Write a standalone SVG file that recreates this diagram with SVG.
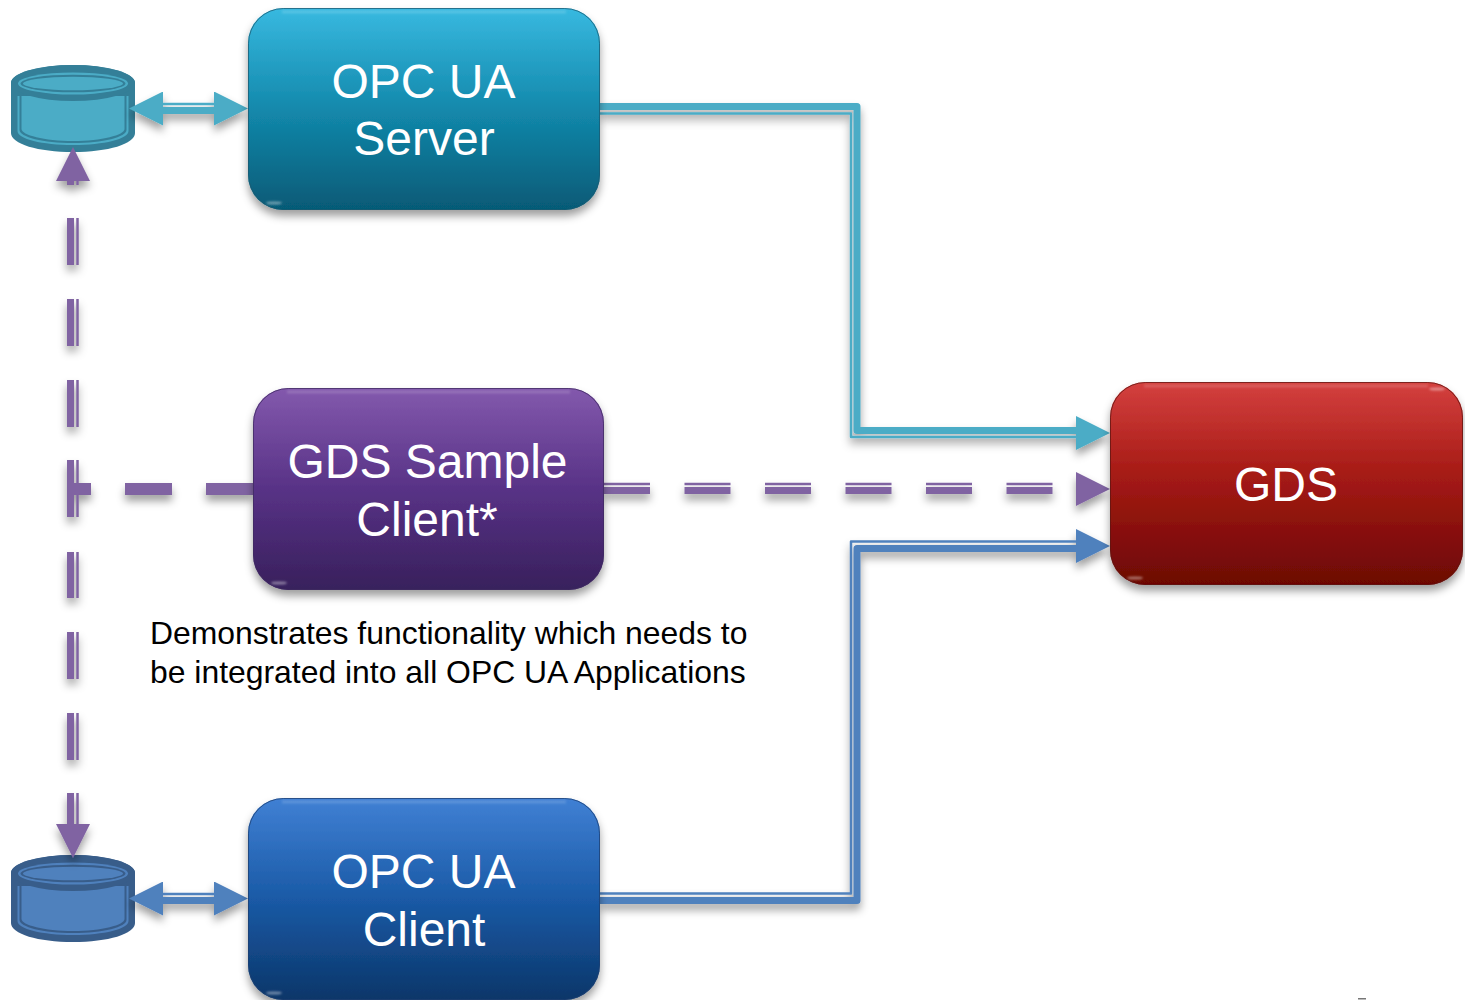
<svg xmlns="http://www.w3.org/2000/svg" width="1465" height="1000" viewBox="0 0 1465 1000">
<style>
text{font-family:"Liberation Sans",Arial,sans-serif}
.lbl{font-size:48px;fill:#fff;text-anchor:middle}
.note{font-size:31.9px;fill:#000}
.line{fill:none;stroke-linejoin:round}
.teal{stroke:#4bacc6}.blue{stroke:#4f81bd}.purple{stroke:#8064a2}
.t7{stroke-width:7}.t3{stroke-width:2.5}.center{fill:none;stroke:none}
.sheen{fill:none;stroke:#fff;stroke-opacity:.16;stroke-width:3}
.edge{fill:none;stroke-width:1;stroke-opacity:.75}
.hl{fill:#fff;fill-opacity:.4}
</style>
<defs>
<filter id="sh" filterUnits="userSpaceOnUse" x="0" y="0" width="1465" height="1000"><feDropShadow dx="0" dy="6" stdDeviation="4" flood-color="#000" flood-opacity=".38"/></filter>
<filter id="blur1" filterUnits="userSpaceOnUse" x="0" y="0" width="1465" height="1000"><feGaussianBlur stdDeviation="1.300"/></filter>
<linearGradient id="gTeal" x1="0" y1="0" x2="0" y2="1"><stop offset="0" stop-color="#38b9e0"/><stop offset=".5" stop-color="#1389ac"/><stop offset="1" stop-color="#065a76"/></linearGradient>
<linearGradient id="gPurple" x1="0" y1="0" x2="0" y2="1"><stop offset="0" stop-color="#8359ad"/><stop offset=".5" stop-color="#583286"/><stop offset="1" stop-color="#38205c"/></linearGradient>
<linearGradient id="gBlue" x1="0" y1="0" x2="0" y2="1"><stop offset="0" stop-color="#4080d4"/><stop offset=".5" stop-color="#1a5aa6"/><stop offset="1" stop-color="#0b3669"/></linearGradient>
<linearGradient id="gRed" x1="0" y1="0" x2="0" y2="1"><stop offset="0" stop-color="#d4403f"/><stop offset=".45" stop-color="#a61b15"/><stop offset="1" stop-color="#6c0604"/></linearGradient>
<marker id="hTeal" markerUnits="userSpaceOnUse" markerWidth="34" markerHeight="34" refX="0" refY="17" orient="auto-start-reverse"><path d="M0 0L34 17L0 34Z" fill="#4bacc6"/></marker>
<marker id="hBlue" markerUnits="userSpaceOnUse" markerWidth="34" markerHeight="34" refX="0" refY="17" orient="auto-start-reverse"><path d="M0 0L34 17L0 34Z" fill="#4f81bd"/></marker>
<marker id="hPurple" markerUnits="userSpaceOnUse" markerWidth="34" markerHeight="34" refX="0" refY="17" orient="auto-start-reverse"><path d="M0 0L34 17L0 34Z" fill="#8064a2"/></marker>
<g id="cyl">
<path d="M11 83A62 18 0 0 1 135 83V133C135 144 108 152 73 152C38 152 11 144 11 133Z" fill="var(--d)"/>
<path d="M17.5 96H128.500V131C128.500 139 104 145 73 145C42 145 17.500 139 17.500 131Z" fill="var(--f)"/>
<path d="M19.500 96H126.500V130C126.500 137 103 143 73 143C43 143 19.500 137 19.500 130Z" fill="var(--d)"/>
<path d="M21.500 96H124.500V129C124.500 135 102 141 73 141C44 141 21.500 135 21.500 129Z" fill="var(--f)"/>
<ellipse cx="73" cy="83" rx="62" ry="18" fill="var(--d)"/>
<ellipse cx="73" cy="83.500" rx="55" ry="11" fill="var(--f)"/>
<ellipse cx="73" cy="83.500" rx="52.500" ry="8.800" fill="var(--d)"/>
<ellipse cx="73" cy="83.500" rx="50" ry="6.800" fill="var(--f)"/>
</g>
</defs>

<g id="store-server" style="--d:#347f98;--f:#4bacc6"><use href="#cyl"/></g>
<g id="store-client" style="--d:#385d8a;--f:#4f81bd"><use href="#cyl" y="790"/></g>

<g id="connectors">
<g id="c-server-gds" filter="url(#sh)">
<path class="line teal t7" d="M600 106.500H857V430.500H1078"/>
<path class="line teal t3" d="M600 113.500H851V437H1078"/>
<path class="center" d="M1070 433H1076" marker-end="url(#hTeal)"/>
</g>
<g id="c-client-gds" filter="url(#sh)">
<path class="line blue t7" d="M600 900.500H857V548.500H1078"/>
<path class="line blue t3" d="M600 893.500H851V541.500H1078"/>
<path class="center" d="M1070 546H1076" marker-end="url(#hBlue)"/>
</g>
<g id="c-sample-gds" filter="url(#sh)">
<path class="line purple t7" d="M604 490.500H1052.500" stroke-dasharray="46 34.500"/>
<path class="line purple t3" d="M604 484H1052.500" stroke-dasharray="46 34.500"/>
<path class="center" d="M1070 489H1076" marker-end="url(#hPurple)"/>
</g>
<g id="c-sample-stores" filter="url(#sh)">
<path class="line purple" stroke-width="12" d="M253 489H206M172 489H125M91 489H74"/>
<path class="line purple t7" d="M70.500 181V185M70.500 218V265M70.500 299V346M70.500 380V427M70.500 460V517M70.500 552V598M70.500 632V679M70.500 713V760M70.500 793V828"/>
<path class="line purple t3" d="M77.500 181V185M77.500 218V265M77.500 299V346M77.500 380V427M77.500 460V517M77.500 552V598M77.500 632V679M77.500 713V760M77.500 793V828"/>
<path class="center" d="M73 190V181" marker-end="url(#hPurple)"/>
<path class="center" d="M73 820V824" marker-end="url(#hPurple)"/>
</g>
<g id="c-server-store" filter="url(#sh)">
<path class="line teal t7" d="M160 110.500H216"/>
<path class="line teal t3" d="M160 104H216"/>
<path class="center" d="M163 108.500H214" marker-start="url(#hTeal)" marker-end="url(#hTeal)"/>
</g>
<g id="c-client-store" filter="url(#sh)">
<path class="line blue t7" d="M160 900.500H216"/>
<path class="line blue t3" d="M160 894H216"/>
<path class="center" d="M163 898.500H214" marker-start="url(#hBlue)" marker-end="url(#hBlue)"/>
</g>
</g>

<g id="opc-ua-server">
<rect x="248" y="8" width="352" height="202" rx="35" fill="url(#gTeal)" filter="url(#sh)"/>
<rect x="248.500" y="8.500" width="351" height="201" rx="35" class="edge" stroke="#1c5a70"/>
<path class="sheen" d="M282 12H566" filter="url(#blur1)"/>
<ellipse class="hl" cx="274" cy="203" rx="8" ry="1.600" filter="url(#blur1)"/>
<text class="lbl" x="423.500" y="98">OPC UA</text>
<text class="lbl" x="424" y="155">Server</text>
</g>

<g id="gds-sample-client">
<rect x="253" y="388" width="351" height="202" rx="35" fill="url(#gPurple)" filter="url(#sh)"/>
<rect x="253.500" y="388.500" width="350" height="201" rx="35" class="edge" stroke="#3f2b60"/>
<path class="sheen" d="M287 392H570" filter="url(#blur1)"/>
<ellipse class="hl" cx="279" cy="583" rx="8" ry="1.600" filter="url(#blur1)"/>
<text class="lbl" x="427.500" y="478">GDS Sample</text>
<text class="lbl" x="427" y="536">Client*</text>
</g>

<g id="opc-ua-client">
<rect x="248" y="798" width="352" height="202" rx="35" fill="url(#gBlue)" filter="url(#sh)"/>
<rect x="248.500" y="798.500" width="351" height="201" rx="35" class="edge" stroke="#1d3f70"/>
<path class="sheen" d="M282 802H566" filter="url(#blur1)"/>
<ellipse class="hl" cx="274" cy="993" rx="8" ry="1.600" filter="url(#blur1)"/>
<text class="lbl" x="423.500" y="888">OPC UA</text>
<text class="lbl" x="424" y="945.500">Client</text>
</g>

<g id="gds">
<rect x="1110" y="382" width="353" height="203" rx="35" fill="url(#gRed)" filter="url(#sh)"/>
<rect x="1110.500" y="382.500" width="352" height="202" rx="35" class="edge" stroke="#5e1512"/>
<path class="sheen" d="M1144 386H1428" filter="url(#blur1)"/>
<ellipse class="hl" cx="1135" cy="578" rx="8" ry="1.600" filter="url(#blur1)"/>
<ellipse class="hl" cx="1437" cy="389" rx="8" ry="1.600" filter="url(#blur1)"/>
<text class="lbl" x="1286" y="501">GDS</text>
</g>

<text class="note" x="150" y="644">Demonstrates functionality which needs to</text>
<text class="note" x="150" y="683">be integrated into all OPC UA Applications</text>
<rect x="1358" y="998" width="8" height="1.500" fill="#777"/>
</svg>
